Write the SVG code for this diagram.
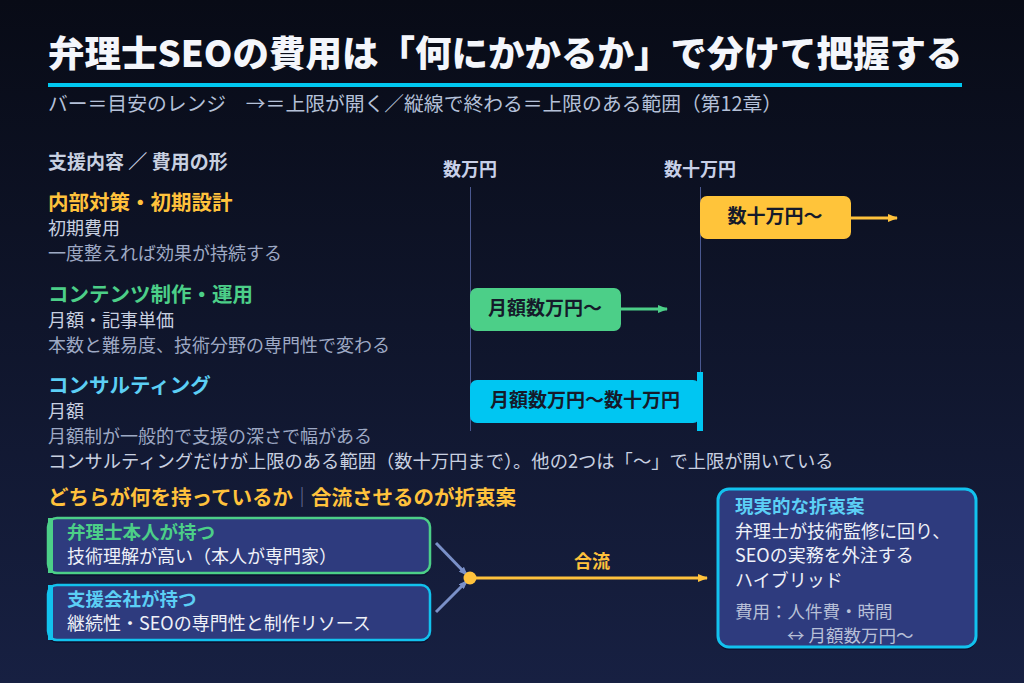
<svg xmlns="http://www.w3.org/2000/svg" width="1024" height="683" viewBox="0 0 1024 683">
<defs>
<linearGradient id="bg" x1="0" y1="0" x2="0" y2="1">
<stop offset="0" stop-color="#080b16"/>
<stop offset="1" stop-color="#172042"/>
</linearGradient>
<marker id="ahO" markerWidth="10" markerHeight="8" refX="9" refY="4" orient="auto" markerUnits="userSpaceOnUse"><path d="M0,0 L10,4 L0,8 z" fill="#ffc23c"/></marker>
<marker id="ahG" markerWidth="10" markerHeight="8" refX="9" refY="4" orient="auto" markerUnits="userSpaceOnUse"><path d="M0,0 L10,4 L0,8 z" fill="#4ccf88"/></marker>
<marker id="ahB" markerWidth="9" markerHeight="7" refX="8" refY="3.5" orient="auto" markerUnits="userSpaceOnUse"><path d="M0,0 L9,3.5 L0,7 z" fill="#7a90c8"/></marker>
<style>
text{font-family:"Noto Sans CJK JP","Noto Sans",sans-serif;}
.title{font-size:36.5px;font-weight:900;fill:#f4f6fb;}
.sub{font-size:19.8px;fill:#b4c0d8;}
.hd{font-size:19px;font-weight:700;fill:#c8d0e0;}
.ax{font-size:18px;font-weight:700;fill:#c8d0e8;}
.cat{font-size:20.5px;font-weight:700;}
.l1{font-size:18px;fill:#c8d0e0;}
.l2{font-size:18px;fill:#9ea9c4;}
.bar{font-size:19px;font-weight:700;fill:#151a2a;}
.axl{stroke:#4a5890;stroke-width:1;}
.bt{font-size:18.5px;font-weight:700;}
.bw{font-size:18px;fill:#eef1f8;}
.box{fill:#2e3b7e;stroke-width:2.5;}
.shadow{fill:#0b1230;}
.conn{stroke:#7a90c8;stroke-width:3;fill:none;}
</style>
</defs>
<rect width="1024" height="683" fill="url(#bg)"/>

<g id="header">
<text class="title" x="48" y="67">弁理士SEOの費用は「何にかかるか」で分けて把握する</text>
<rect x="48" y="83" width="914" height="4" fill="#00c8f0"/>
<text class="sub" x="48" y="111">バー＝目安のレンジ　→＝上限が開く／縦線で終わる＝上限のある範囲（第12章）</text>
</g>

<g id="axis">
<text class="hd" x="48" y="169">支援内容 ／ 費用の形</text>
<text class="ax" x="470" y="176" text-anchor="middle">数万円</text>
<text class="ax" x="700" y="176" text-anchor="middle">数十万円</text>
<line class="axl" x1="470.5" y1="187" x2="470.5" y2="431"/>
<line class="axl" x1="700.5" y1="187" x2="700.5" y2="431"/>
</g>

<g id="row-internal">
<text class="cat" x="48" y="210" fill="#ffc23c">内部対策・初期設計</text>
<text class="l1" x="48" y="235">初期費用</text>
<text class="l2" x="48" y="260">一度整えれば効果が持続する</text>
<rect x="700" y="196" width="151" height="43" rx="7" fill="#ffc43a"/>
<text class="bar" x="775" y="223" text-anchor="middle">数十万円〜</text>
</g>

<g id="row-content">
<text class="cat" x="48" y="302" fill="#4ccf88">コンテンツ制作・運用</text>
<text class="l1" x="48" y="327">月額・記事単価</text>
<text class="l2" x="48" y="352">本数と難易度、技術分野の専門性で変わる</text>
<rect x="470" y="288" width="151" height="43" rx="7" fill="#4ccf88"/>
<text class="bar" x="545" y="315" text-anchor="middle">月額数万円〜</text>
</g>

<g id="row-consulting">
<text class="cat" x="48" y="393" fill="#5ccff5">コンサルティング</text>
<text class="l1" x="48" y="418">月額</text>
<text class="l2" x="48" y="443">月額制が一般的で支援の深さで幅がある</text>
<text class="l1" x="48" y="468" style="font-size:18.3px">コンサルティングだけが上限のある範囲（数十万円まで）。他の2つは「〜」で上限が開いている</text>
<rect x="470" y="380" width="230" height="43" rx="7" fill="#00c6f2"/>
<rect x="697" y="372" width="6" height="59" fill="#00c6f2"/>
<text class="bar" x="585" y="407" text-anchor="middle">月額数万円〜数十万円</text>
</g>

<g id="merge-title">
<text class="cat" x="48" y="505" fill="#ffc23c">どちらが何を持っているか</text>
<text x="292" y="505" style="font-size:20px;fill:#6a7698">｜</text>
<text class="cat" x="311" y="505" fill="#ffc23c">合流させるのが折衷案</text>
</g>

<g id="node-attorney">
<rect x="48" y="521" width="382" height="55" rx="9" class="shadow"/>
<rect x="48" y="518" width="382" height="55" rx="9" class="box" stroke="#4ccf88"/>
<rect x="48" y="518" width="5" height="55" fill="#4ccf88"/>
<text class="bt" x="67" y="539" fill="#4ccf88">弁理士本人が持つ</text>
<text class="bw" x="67" y="563">技術理解が高い（本人が専門家）</text>
</g>

<g id="node-agency">
<rect x="48" y="588" width="382" height="55" rx="9" class="shadow"/>
<rect x="48" y="585" width="382" height="55" rx="9" class="box" stroke="#12c2ee"/>
<rect x="48" y="585" width="5" height="55" fill="#12c2ee"/>
<text class="bt" x="67" y="606" fill="#5ccff5">支援会社が持つ</text>
<text class="bw" x="67" y="630">継続性・SEOの専門性と制作リソース</text>
</g>

<g id="node-hybrid">
<rect x="718" y="492" width="258" height="158" rx="11" class="shadow"/>
<rect x="718" y="489" width="258" height="158" rx="11" class="box" stroke="#12c2ee" style="stroke-width:3"/>
<text class="bt" x="735" y="513" fill="#5ccff5">現実的な折衷案</text>
<text class="bw" x="735" y="538">弁理士が技術監修に回り、</text>
<text class="bw" x="735" y="562">SEOの実務を外注する</text>
<text class="bw" x="735" y="587">ハイブリッド</text>
<text x="735" y="618" style="font-size:17.5px;fill:#b8c0d8">費用：人件費・時間</text>
<text x="787" y="642" style="font-size:17.5px;fill:#b8c0d8">↔ 月額数万円〜</text>
</g>

<g id="connectors">
<line x1="851" y1="218" x2="897" y2="218" stroke="#ffc23c" stroke-width="3" marker-end="url(#ahO)"/>
<line x1="621" y1="309" x2="667" y2="309" stroke="#4ccf88" stroke-width="3" marker-end="url(#ahG)"/>
<line class="conn" x1="436" y1="543" x2="467" y2="575" marker-end="url(#ahB)"/>
<line class="conn" x1="436" y1="612" x2="467" y2="581" marker-end="url(#ahB)"/>
<line x1="470" y1="578" x2="707" y2="578" stroke="#ffc23c" stroke-width="3" marker-end="url(#ahO)"/>
<circle cx="470" cy="578" r="6.5" fill="#ffc23c"/>
<text x="592" y="568" text-anchor="middle" style="font-size:18px;font-weight:700;fill:#ffc23c">合流</text>
</g>
</svg>
